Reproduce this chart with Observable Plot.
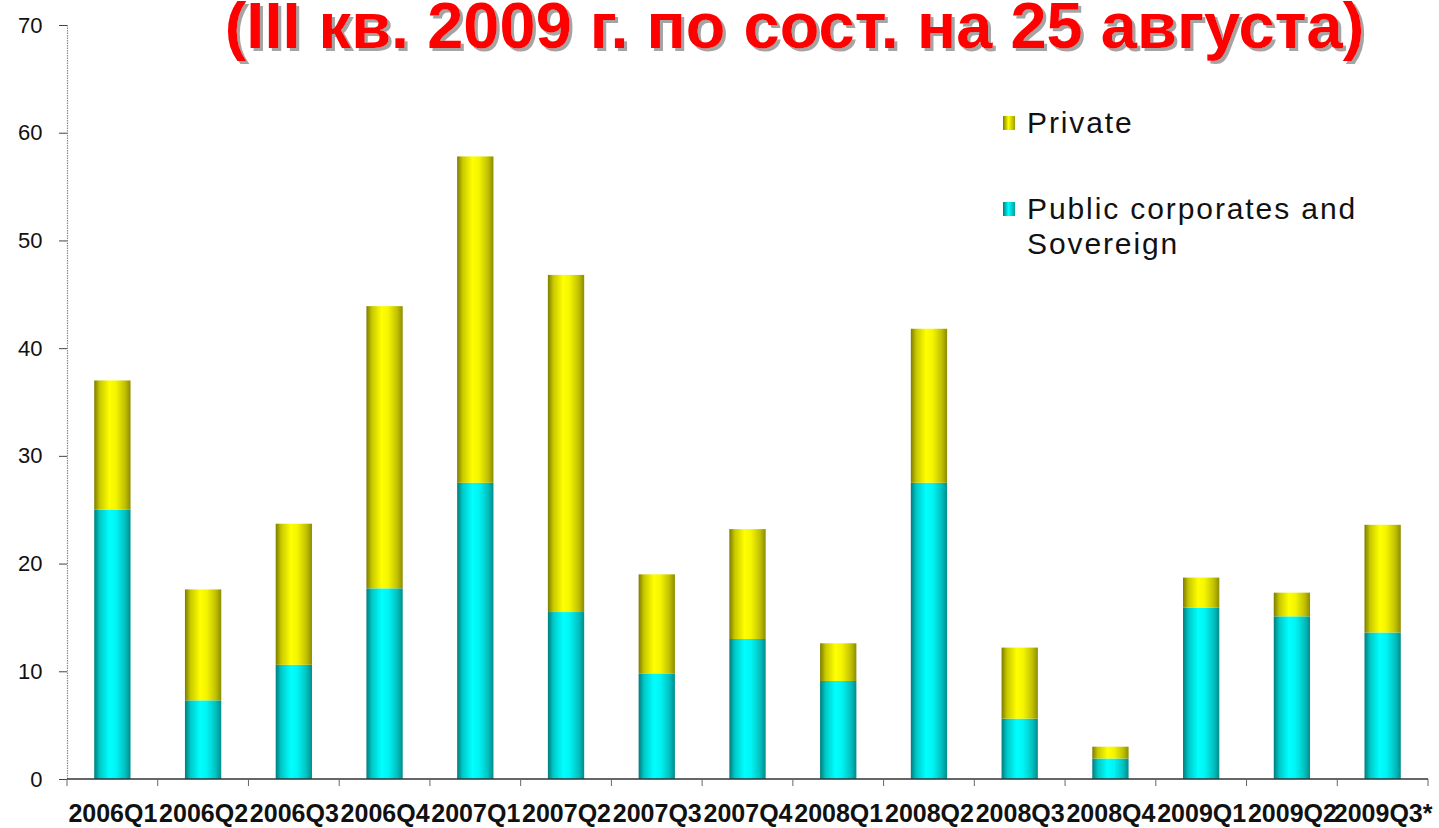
<!DOCTYPE html>
<html>
<head>
<meta charset="utf-8">
<script src="https://cdn.jsdelivr.net/npm/d3@7"></script>
<script src="https://cdn.jsdelivr.net/npm/@observablehq/plot@0.6"></script>
<style>
  body { margin: 0; background: #ffffff; }
  #wrap { position: relative; width: 1439px; height: 828px; overflow: hidden; background: #fff; }
  #wrap svg { display: block; }
  .legend-item { position: absolute; left: 1003px; font-family: "Liberation Sans", Arial, sans-serif;
    font-size: 30px; line-height: 35px; color: #111; letter-spacing: 1.9px; white-space: nowrap; }
  .legend-item .sw { position: absolute; left: 0; top: 11px; width: 12px; height: 14px; }
  .legend-item .lbl { position: absolute; left: 24px; top: 0; }
</style>
</head>
<body>
<div id="wrap"></div>
<script>
// ---- data ----
const quarters = ["2006Q1","2006Q2","2006Q3","2006Q4","2007Q1","2007Q2","2007Q3","2007Q4",
                  "2008Q1","2008Q2","2008Q3","2008Q4","2009Q1","2009Q2","2009Q3*"];
const publicSovereign = [25.0, 7.3, 10.6, 17.7, 27.5, 15.5, 9.8, 13.0, 9.1, 27.5, 5.6, 1.9, 15.9, 15.1, 13.6];
const privateSector   = [12.0, 10.3, 13.1, 26.2, 30.3, 31.3, 9.2, 10.2, 3.5, 14.3, 6.6, 1.1, 2.8, 2.2, 10.0];
const seriesNames = ["Public corporates and Sovereign", "Private"];
const yTicks = [0, 10, 20, 30, 40, 50, 60, 70];
const titleText = "(III кв. 2009 г. по сост. на 25 августа)";

// tidy table built from the arrays
const rows = [];
quarters.forEach((q, i) => {
  rows.push({quarter: q, series: seriesNames[0], value: publicSovereign[i]});
  rows.push({quarter: q, series: seriesNames[1], value: privateSector[i]});
});

// axis lines and category boundary ticks, drawn from the scales
function axisLines(index, scales, values, dims) {
  const x = scales.x, y = scales.y;
  const {marginLeft} = dims;
  const y0 = y(0);
  const bw = typeof x.bandwidth === "function" ? x.bandwidth() : (x.bandwidth || 0);
  const step = x(quarters[1]) - x(quarters[0]);
  const gap = (step - bw) / 2;
  const g = d3.create("svg:g");
  g.append("line").attr("x1", marginLeft + 0.5).attr("x2", marginLeft + 0.5)
    .attr("y1", y(70)).attr("y2", y0)
    .attr("stroke", "#8a8a8a").attr("stroke-width", 1.2).attr("stroke-dasharray", "1.5,1");
  const bounds = quarters.map(q => x(q) - gap);
  bounds.push(x(quarters[quarters.length - 1]) + bw + gap);
  g.append("line").attr("x1", bounds[0]).attr("x2", bounds[bounds.length - 1])
    .attr("y1", y0).attr("y2", y0).attr("stroke", "#333").attr("stroke-width", 1.6);
  for (const b of bounds) {
    g.append("line").attr("x1", b).attr("x2", b).attr("y1", y0).attr("y2", y0 + 7)
      .attr("stroke", "#666").attr("stroke-width", 1);
  }
  return g.node();
}

const plot = Plot.plot({
  width: 1439,
  height: 828,
  marginTop: 25,
  marginBottom: 49,
  marginLeft: 67,
  marginRight: 11,
  style: {background: "#fff", fontFamily: "'Liberation Sans', Arial, sans-serif", color: "#111"},
  x: {domain: quarters, paddingInner: 0.6, paddingOuter: 0.3, round: false, label: null},
  y: {domain: [0, 70], label: null},
  color: {domain: seriesNames, range: ["url(#gradCyan)", "url(#gradYellow)"]},
  marks: [
    Plot.barY(rows, Plot.stackY({x: "quarter", y: "value", fill: "series", order: seriesNames})),
    Plot.axisY({ticks: yTicks, tickSize: 8, tickPadding: 17, fontSize: 22, stroke: "#444", fill: "#111", label: null}),
    Plot.axisX({tickSize: 0, tickPadding: 25, fontSize: 25, fontWeight: "bold", fill: "#111", label: null}),
    axisLines,
    Plot.text([titleText], {text: d => d, frameAnchor: "top", lineAnchor: "bottom", dx: 46.5, dy: 22,
      fontSize: 65, fontWeight: "bold", fill: "#ff0000", fontFamily: "'Liberation Sans', Arial, sans-serif"})
  ]
});

// gradient and shadow definitions
const ns = "http://www.w3.org/2000/svg";
const defs = document.createElementNS(ns, "defs");
function grad(id, stops) {
  const lg = document.createElementNS(ns, "linearGradient");
  lg.setAttribute("id", id);
  lg.setAttribute("x1", "0"); lg.setAttribute("x2", "1"); lg.setAttribute("y1", "0"); lg.setAttribute("y2", "0");
  for (const [o, c] of stops) {
    const s = document.createElementNS(ns, "stop");
    s.setAttribute("offset", o); s.setAttribute("stop-color", c);
    lg.appendChild(s);
  }
  defs.appendChild(lg);
}
grad("gradYellow", [[0, "#7c7c00"], [0.15, "#c8c800"], [0.42, "#ffff00"], [0.6, "#f4f400"], [0.85, "#c0c000"], [1, "#8c8c00"]]);
grad("gradCyan", [[0, "#007c7c"], [0.15, "#00c8c8"], [0.42, "#00ffff"], [0.6, "#00f4f4"], [0.85, "#00c0c0"], [1, "#008c8c"]]);
const filt = document.createElementNS(ns, "filter");
filt.setAttribute("id", "titleShadow");
filt.setAttribute("x", "-5%"); filt.setAttribute("y", "-20%");
filt.setAttribute("width", "110%"); filt.setAttribute("height", "150%");
const ds = document.createElementNS(ns, "feDropShadow");
ds.setAttribute("dx", "3"); ds.setAttribute("dy", "3"); ds.setAttribute("stdDeviation", "0.6");
ds.setAttribute("flood-color", "#9a9a9a"); ds.setAttribute("flood-opacity", "0.9");
filt.appendChild(ds);
defs.appendChild(filt);
plot.insertBefore(defs, plot.firstChild);

for (const t of plot.querySelectorAll("text")) {
  if (t.textContent === titleText) t.setAttribute("filter", "url(#titleShadow)");
}

const wrap = document.getElementById("wrap");
wrap.appendChild(plot);

// legend
const legendItems = [
  {lines: ["Private"], top: 105, sw: "linear-gradient(90deg,#7c7c00,#ffff00 45%,#a0a000)"},
  {lines: ["Public corporates and", "Sovereign"], top: 191, sw: "linear-gradient(90deg,#007c7c,#00ffff 45%,#00a0a0)"}
];
for (const it of legendItems) {
  const d = document.createElement("div");
  d.className = "legend-item";
  d.style.top = it.top + "px";
  const sw = document.createElement("span");
  sw.className = "sw";
  sw.style.background = it.sw;
  d.appendChild(sw);
  const l = document.createElement("span");
  l.className = "lbl";
  l.innerHTML = it.lines.join("<br>");
  d.appendChild(l);
  wrap.appendChild(d);
}
</script>
</body>
</html>
